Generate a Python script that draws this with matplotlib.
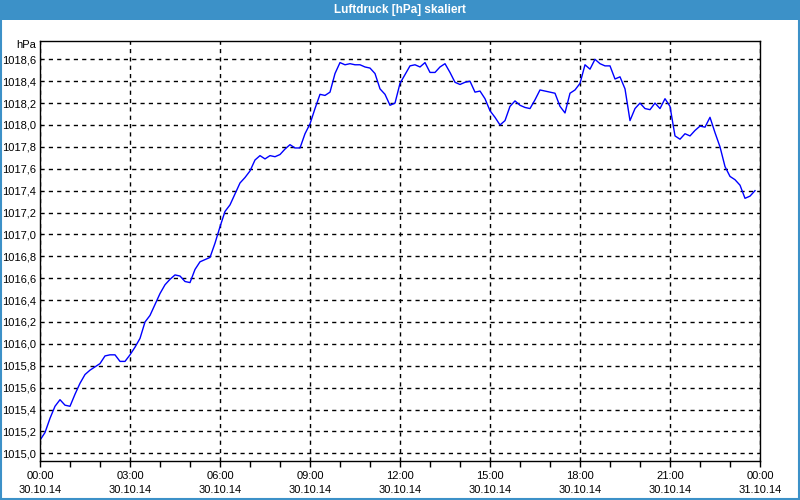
import matplotlib
matplotlib.use("Agg")
import matplotlib.pyplot as plt
import matplotlib.dates as mdates
from matplotlib.ticker import MultipleLocator, FuncFormatter
from matplotlib.patches import Rectangle
import pandas as pd

plt.rcParams["font.family"] = ["Liberation Sans", "DejaVu Sans"]

title = "Luftdruck [hPa] skaliert"
unit = "hPa"
start = "2014-10-30 00:00"
end = "2014-10-31 00:00"
pressure = [
    1015.12, 1015.19, 1015.32, 1015.43, 1015.49, 1015.44, 1015.43, 1015.54, 1015.64, 1015.72,
    1015.76, 1015.79, 1015.82, 1015.89, 1015.90, 1015.90, 1015.84, 1015.84, 1015.90, 1015.97,
    1016.05, 1016.20, 1016.26, 1016.36, 1016.46, 1016.54, 1016.59, 1016.63, 1016.62, 1016.57,
    1016.56, 1016.68, 1016.75, 1016.77, 1016.79, 1016.92, 1017.07, 1017.21, 1017.27, 1017.37,
    1017.47, 1017.52, 1017.58, 1017.68, 1017.72, 1017.69, 1017.72, 1017.71, 1017.73, 1017.78,
    1017.82, 1017.79, 1017.79, 1017.92, 1018.01, 1018.15, 1018.28, 1018.27, 1018.30, 1018.47,
    1018.57, 1018.55, 1018.56, 1018.55, 1018.55, 1018.53, 1018.52, 1018.47, 1018.33, 1018.28,
    1018.18, 1018.20, 1018.38, 1018.46, 1018.54, 1018.55, 1018.53, 1018.57, 1018.48, 1018.48,
    1018.53, 1018.56, 1018.48, 1018.39, 1018.37, 1018.39, 1018.40, 1018.30, 1018.31, 1018.24,
    1018.13, 1018.07, 1018.00, 1018.04, 1018.17, 1018.22, 1018.18, 1018.16, 1018.15, 1018.23,
    1018.32, 1018.31, 1018.30, 1018.29, 1018.17, 1018.11, 1018.29, 1018.32, 1018.38, 1018.55,
    1018.51, 1018.60, 1018.56, 1018.54, 1018.54, 1018.42, 1018.44, 1018.33, 1018.04, 1018.15,
    1018.20, 1018.15, 1018.14, 1018.20, 1018.15, 1018.24, 1018.17, 1017.90, 1017.87, 1017.92,
    1017.90, 1017.95, 1017.99, 1017.98, 1018.07, 1017.93, 1017.80, 1017.62, 1017.53, 1017.50,
    1017.45, 1017.33, 1017.35, 1017.40,
]
times = pd.date_range(start, periods=len(pressure), freq="10min")

fig = plt.figure(figsize=(8, 5), dpi=100, facecolor="white")

# title bar
fig.patches.append(Rectangle((0, 1 - 20 / 500), 1, 20 / 500, transform=fig.transFigure,
                             facecolor="#3c91c8", edgecolor="none", zorder=0))
fig.patches.append(Rectangle((0.75 / 800, 0.75 / 500), 1 - 1.5 / 800, 1 - 1.5 / 500, transform=fig.transFigure,
                             facecolor="none", edgecolor="#3c91c8", linewidth=1.5, zorder=1))
fig.text(0.5, 1 - 10 / 500, title, color="white", fontsize=8.5, fontweight="bold",
         ha="center", va="center")

ax = fig.add_axes([40 / 800, 39 / 500, 720 / 800, 420.3 / 500])
ax.plot(times, pressure, color="#0000ff", linewidth=1)

ax.set_xlim(pd.Timestamp(start), pd.Timestamp(end))
ax.set_ylim(1014.93, 1018.77)

ax.yaxis.set_major_locator(MultipleLocator(0.2))
ax.yaxis.set_major_formatter(FuncFormatter(lambda v, p: f"{v:.1f}".replace(".", ",")))
ax.xaxis.set_major_locator(mdates.HourLocator(byhour=range(0, 24, 3)))
ax.xaxis.set_minor_locator(mdates.HourLocator())
ax.xaxis.set_major_formatter(mdates.DateFormatter("%H:%M\n%d.%m.%y"))

ax.grid(True, which="major", color="black", linestyle=(0, (3, 3)), linewidth=1)
ax.tick_params(axis="y", length=0, pad=3, labelsize=8, colors="black")
ax.tick_params(axis="x", which="both", length=4, width=1, direction="out", labelsize=8, pad=3)
for lbl in ax.get_xticklabels():
    lbl.set_linespacing(1.5)
for s in ax.spines.values():
    s.set_color("black")
    s.set_linewidth(1)

fig.text(36 / 800, 1 - 45 / 500, unit, fontsize=8, ha="right", va="center")

fig.savefig("out.png", dpi=100, facecolor=fig.get_facecolor())
